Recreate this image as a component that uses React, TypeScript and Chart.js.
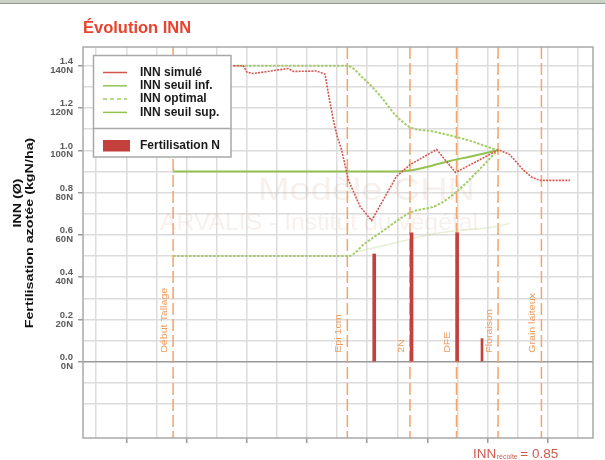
import React, { useEffect, useRef } from 'react';
import { Chart, registerables } from 'chart.js';

Chart.register(...registerables);

const FONT = '"Liberation Sans", Arial, Helvetica, sans-serif';

// ---------- texts ----------
const titleText = 'Évolution INN';
const yTitleLine1 = 'INN (Ø)';
const yTitleLine2 = 'Fertilisation azotée (kgN/ha)';
const legendLabels = ['INN simulé', 'INN seuil inf.', 'INN optimal', 'INN seuil sup.', 'Fertilisation N'];
const watermarkLine1 = 'Modèle CHN';
const watermarkLine2 = 'ARVALIS - Institut du végétal';
const finalInnLabel = 'INN';
const finalInnSub = 'récolte';
const finalInnValue = '= 0.85';

// ---------- axes (x = days) ----------
const xMin = 8.4;
const xMax = 262.5;
const xGridDays = [15, 30, 45, 60, 75, 90, 105, 120, 135, 150, 165, 180, 195, 210, 225, 240, 255];
const xMonthTickDays = [30, 60, 90, 120, 150, 180, 210, 240];

const yMin = -0.36;
const yMax = 1.4885;
const yGridValues = [-0.2, -0.1, 0, 0.1, 0.2, 0.3, 0.4, 0.5, 0.6, 0.7, 0.8, 0.9, 1.0, 1.1, 1.2, 1.3, 1.4];
const yLabelValues = [0, 0.2, 0.4, 0.6, 0.8, 1.0, 1.2, 1.4];
const yLabelsInn = ['0.0', '0.2', '0.4', '0.6', '0.8', '1.0', '1.2', '1.4'];
const yLabelsN = ['0N', '20N', '40N', '60N', '80N', '100N', '120N', '140N'];

// ---------- stages ----------
const stageDays = [53.3, 140.1, 171.3, 194.5, 215.2, 236.8];
const stageLabels = ['Début Tallage', 'Epi 1cm', '2N', 'DFE', 'Floraison', 'Grain laiteux'];

// ---------- series ----------
const innSimDays = [83.3, 88.3, 90.0, 93.3, 110.7, 113.2, 124.8, 129.0, 131.0, 133.0, 134.9, 137.3, 140.6, 146.4, 152.2, 158.0, 164.6, 171.3, 184.6, 194.0, 215.5, 221.0, 227.6, 231.8, 236.0, 251.1];
const innSimValues = [1.40, 1.40, 1.37, 1.363, 1.387, 1.373, 1.375, 1.36, 1.25, 1.15, 1.07, 1.0, 0.86, 0.735, 0.668, 0.766, 0.877, 0.932, 1.004, 0.895, 1.003, 0.98, 0.909, 0.874, 0.858, 0.858];

const seuilSupDays = [53.3, 140.1, 147.9, 156.3, 163.8, 171.3, 182.9, 199.5, 215.0];
const seuilSupValues = [1.4, 1.4, 1.342, 1.26, 1.17, 1.11, 1.089, 1.05, 1.0];

const seuilInfDays = [53.3, 140.6, 148.9, 158.0, 171.3, 184.7, 194.8, 204.1, 215.0];
const seuilInfValues = [0.5, 0.5, 0.56, 0.62, 0.705, 0.74, 0.806, 0.892, 1.0];

const optimalDays = [53.3, 163.8, 171.3, 181.2, 191.2, 201.1, 215.0];
const optimalValues = [0.9, 0.9, 0.905, 0.925, 0.95, 0.97, 1.0];

const faintDays = [144.8, 156.3, 186.3, 214.4, 221.0];
const faintValues = [0.52, 0.545, 0.61, 0.64, 0.655];

const fertDays = [153.5, 172.1, 194.8];
const fertValues = [0.51, 0.61, 0.61];
const fertSmallDays = [207.2];
const fertSmallValues = [0.11];

// ---------- colours ----------
const RED_LINE = '#d4554e';
const RED_BAR = '#c4403c';
const GREEN_DOT = '#a6cb68';
const GREEN_SOLID = '#93c24f';
const ORANGE = '#f4a36a';
const GRID = '#dcdcdc';

const zip = (xs: number[], ys: number[]) => xs.map((x, i) => ({ x, y: ys[i] }));

function txt(ctx: CanvasRenderingContext2D, text: string, x: number, y: number, o: any) {
  ctx.save();
  ctx.translate(x, y);
  if (o.rotate) ctx.rotate(o.rotate);
  ctx.scale(o.sx ?? 1, o.sy ?? 1);
  ctx.font = o.font;
  ctx.fillStyle = o.color;
  ctx.textAlign = o.align ?? 'left';
  ctx.textBaseline = o.baseline ?? 'alphabetic';
  ctx.fillText(text, 0, 0);
  ctx.restore();
}

function fitText(ctx: CanvasRenderingContext2D, text: string, cx: number, y: number, font: string, width: number, color: string) {
  ctx.save();
  ctx.font = font;
  const w = ctx.measureText(text).width;
  ctx.translate(cx, y);
  ctx.scale(width / w, 1);
  ctx.fillStyle = color;
  ctx.textAlign = 'center';
  ctx.textBaseline = 'alphabetic';
  ctx.fillText(text, 0, 0);
  ctx.restore();
}

const decor = {
  id: 'decor',
  beforeDatasetsDraw(chart: any) {
    const { ctx, chartArea: ca, scales } = chart;
    const x = scales.x;
    const y = scales.y;
    // watermark
    const wmColor = 'rgba(205,160,145,0.16)';
    fitText(ctx, watermarkLine1, 366.5, 200, `32px ${FONT}`, 217, wmColor);
    fitText(ctx, watermarkLine2, 319, 230, `24px ${FONT}`, 318, wmColor);

    // stage lines + labels
    ctx.save();
    ctx.strokeStyle = ORANGE;
    ctx.lineWidth = 1.5;
    ctx.setLineDash([12, 4]);
    stageDays.forEach((d) => {
      const px = x.getPixelForValue(d);
      ctx.beginPath();
      ctx.moveTo(px, ca.top);
      ctx.lineTo(px, ca.bottom);
      ctx.stroke();
    });
    ctx.restore();
    const y0 = y.getPixelForValue(0);
    stageDays.forEach((d, i) => {
      const px = x.getPixelForValue(d);
      txt(ctx, stageLabels[i], px - 9, y0 - 9, {
        font: `9.5px ${FONT}`, color: '#f09a5c', rotate: -Math.PI / 2, align: 'left', baseline: 'middle', sx: 1.12,
      });
    });

    // border
    ctx.save();
    ctx.strokeStyle = '#a9a9a9';
    ctx.lineWidth = 1.5;
    ctx.strokeRect(ca.left, ca.top, ca.right - ca.left, ca.bottom - ca.top);
    ctx.restore();
  },
  afterDraw(chart: any) {
    const { ctx } = chart;
    // top strip
    ctx.save();
    ctx.fillStyle = '#c8d1c3';
    ctx.fillRect(0, 0, 605, 3);
    ctx.fillStyle = '#8e988c';
    ctx.fillRect(0, 3, 605, 1);
    ctx.restore();

    // title
    txt(ctx, titleText, 83, 33, { font: `bold 16.5px ${FONT}`, color: '#e8432e' });

    // y titles
    txt(ctx, yTitleLine1, 17.5, 203, { font: `bold 11px ${FONT}`, color: '#111', rotate: -Math.PI / 2, align: 'center', baseline: 'middle', sx: 1.3 });
    txt(ctx, yTitleLine2, 29.5, 233, { font: `bold 11px ${FONT}`, color: '#111', rotate: -Math.PI / 2, align: 'center', baseline: 'middle', sx: 1.3 });

    // legend
    const lx0 = 93.5, ly0 = 55.5, lx1 = 231, ly1 = 157;
    ctx.save();
    ctx.fillStyle = '#ffffff';
    ctx.fillRect(lx0, ly0, lx1 - lx0, ly1 - ly0);
    ctx.strokeStyle = '#a9a9a9';
    ctx.lineWidth = 1.5;
    ctx.strokeRect(lx0, ly0, lx1 - lx0, ly1 - ly0);
    ctx.beginPath();
    ctx.moveTo(lx0, 128.5);
    ctx.lineTo(lx1, 128.5);
    ctx.stroke();
    const rows = [72.5, 85.8, 99.1, 112.4];
    const rowStyles = [
      { c: RED_LINE, d: [] as number[] },
      { c: GREEN_SOLID, d: [] as number[] },
      { c: GREEN_DOT, d: [4, 3] },
      { c: GREEN_SOLID, d: [] as number[] },
    ];
    rows.forEach((ry, i) => {
      ctx.strokeStyle = rowStyles[i].c;
      ctx.lineWidth = 1.5;
      ctx.setLineDash(rowStyles[i].d);
      ctx.beginPath();
      ctx.moveTo(103, ry);
      ctx.lineTo(127, ry);
      ctx.stroke();
      ctx.setLineDash([]);
      txt(ctx, legendLabels[i], 140, ry, { font: `bold 12px ${FONT}`, color: '#1a1a1a', baseline: 'middle' });
    });
    ctx.fillStyle = RED_BAR;
    ctx.fillRect(103, 140, 27, 11.5);
    txt(ctx, legendLabels[4], 140, 146, { font: `bold 12px ${FONT}`, color: '#1a1a1a', baseline: 'middle' });
    ctx.restore();

    // bottom-right INN value
    const col = '#d05a50';
    ctx.save();
    ctx.font = `13.5px ${FONT}`;
    const w1 = ctx.measureText(finalInnLabel).width;
    ctx.font = `7px ${FONT}`;
    const w2 = ctx.measureText(finalInnSub).width;
    ctx.restore();
    txt(ctx, finalInnLabel, 473, 458, { font: `13.5px ${FONT}`, color: col });
    txt(ctx, finalInnSub, 473 + w1 + 0.5, 459, { font: `7px ${FONT}`, color: col });
    txt(ctx, finalInnValue, 473 + w1 + w2 + 3, 458, { font: `13.5px ${FONT}`, color: col });
  },
};

export default function App() {
  const ref = useRef<HTMLCanvasElement>(null);

  useEffect(() => {
    document.body.style.margin = '0';
    const canvas = ref.current!;
    const chart = new Chart(canvas, {
      type: 'line',
      data: {
        datasets: [
          {
            type: 'bar',
            label: legendLabels[4],
            data: zip(fertDays, fertValues),
            backgroundColor: RED_BAR,
            barThickness: 3,
            grouped: false,
            order: 1,
          } as any,
          {
            type: 'bar',
            label: legendLabels[4],
            data: zip(fertSmallDays, fertSmallValues),
            backgroundColor: RED_BAR,
            barThickness: 2,
            grouped: false,
            order: 1,
          } as any,
          {
            label: 'faint',
            data: zip(faintDays, faintValues),
            borderColor: 'rgba(200,225,160,0.45)',
            borderWidth: 1.5,
            pointRadius: 0,
            cubicInterpolationMode: 'monotone',
            order: 9,
          },
          {
            label: legendLabels[3],
            data: zip(seuilSupDays, seuilSupValues),
            borderColor: GREEN_DOT,
            borderWidth: 2,
            borderDash: [2.5, 1.5],
            pointRadius: 0,
            cubicInterpolationMode: 'monotone',
            order: 5,
          },
          {
            label: legendLabels[1],
            data: zip(seuilInfDays, seuilInfValues),
            borderColor: GREEN_DOT,
            borderWidth: 2,
            borderDash: [2.5, 1.5],
            pointRadius: 0,
            cubicInterpolationMode: 'monotone',
            order: 5,
          },
          {
            label: legendLabels[2],
            data: zip(optimalDays, optimalValues),
            borderColor: GREEN_SOLID,
            borderWidth: 2,
            pointRadius: 0,
            cubicInterpolationMode: 'monotone',
            order: 4,
          },
          {
            label: legendLabels[0],
            data: zip(innSimDays, innSimValues),
            borderColor: RED_LINE,
            borderWidth: 1.6,
            borderDash: [2, 1.2],
            pointRadius: 0,
            tension: 0,
            order: 2,
          },
        ],
      },
      options: {
        animation: false,
        responsive: false,
        maintainAspectRatio: false,
        devicePixelRatio: 1,
        layout: { padding: { top: 47, right: 12, bottom: 0, left: 0 } },
        plugins: {
          legend: { display: false },
          tooltip: { enabled: false },
          title: { display: false },
        },
        events: [],
        scales: {
          x: {
            type: 'linear',
            min: xMin,
            max: xMax,
            offset: false,
            afterBuildTicks: (s: any) => {
              s.ticks = xGridDays.map((v) => ({ value: v }));
            },
            afterFit: (s: any) => {
              s.height = 22;
            },
            ticks: { display: false },
            border: { display: false },
            grid: {
              offset: false,
              color: GRID,
              lineWidth: 1.5,
              drawTicks: true,
              tickLength: 5,
              tickColor: (c: any) => (xMonthTickDays.includes(c.tick?.value) ? '#9a9a9a' : 'rgba(0,0,0,0)'),
            },
          },
          y: {
            type: 'linear',
            min: yMin,
            max: yMax,
            afterBuildTicks: (s: any) => {
              s.ticks = yGridValues.map((v) => ({ value: v }));
            },
            afterFit: (s: any) => {
              s.width = 83;
            },
            border: { display: false },
            grid: {
              offset: false,
              color: (c: any) => (c.tick?.value === 0 ? '#9a9a9a' : GRID),
              lineWidth: 1.5,
              drawTicks: true,
              tickLength: 5,
              tickColor: (c: any) => (yLabelValues.includes(c.tick?.value) ? '#9a9a9a' : 'rgba(0,0,0,0)'),
            },
            ticks: {
              autoSkip: false,
              padding: 5,
              color: '#5a5a5a',
              font: { family: FONT, size: 9.5, weight: 'bold', lineHeight: 0.92 },
              callback: (v: any) => {
                const i = yLabelValues.indexOf(v);
                return i >= 0 ? [yLabelsInn[i], yLabelsN[i]] : '';
              },
            },
          },
        },
      },
      plugins: [decor],
    } as any);
    return () => chart.destroy();
  }, []);

  return (
    <div style={{ position: 'absolute', left: 0, top: 0, width: 605, height: 460, background: '#ffffff' }}>
      <canvas ref={ref} width={605} height={460} style={{ display: 'block', width: 605, height: 460 }} />
    </div>
  );
}
